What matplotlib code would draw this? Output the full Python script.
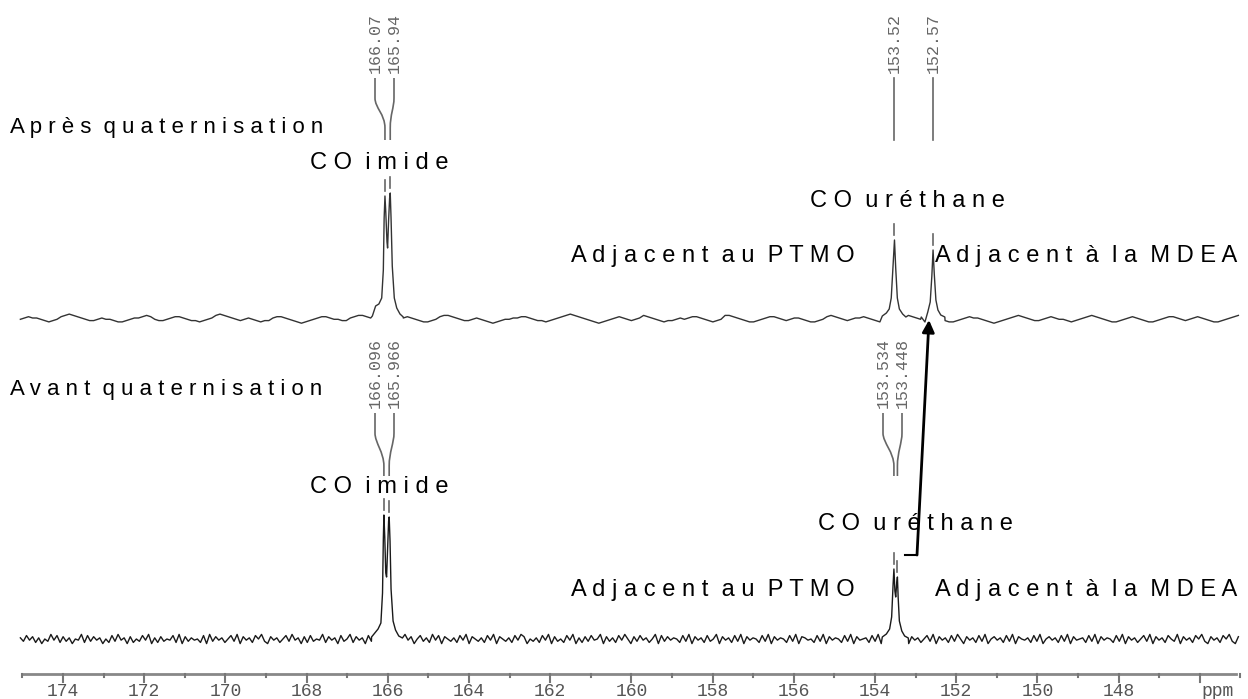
import numpy as np
import matplotlib.pyplot as plt
from matplotlib.path import Path
from matplotlib.patches import PathPatch

# ppm axis
ppm_major = [174, 172, 170, 168, 166, 164, 162, 160, 158, 156, 154, 152, 150, 148, 146]
ppm_labels = ["174", "172", "170", "168", "166", "164", "162", "160",
              "158", "156", "154", "152", "150", "148", ""]
ppm_minor = [175, 173, 171, 169, 167, 165, 163, 161, 159, 157, 155, 153, 151, 149, 147, 145]

# baseline noise (digit 0-9 = low..high)
top_noise = ("45655432346787654334544322345567643345665433234578"
             "76543454323356654321234566544335677654322344565432"
             "23467765433454321234455665433234567876543212345654"
             "34576543233454566543234776543223456654345543223467"
             "65434556543213456776543345432234565543212345676543"
             "34565443234567654322345654322345665434565432234567")
bot_noise = ("63847261539482736154928374615283946172538491627354"
             "82917364528193746258391746285931746258394617283549"
             "27461835927461839254718362947158362948175362849175"
             "36284917536284971536284917352849162738459173628495"
             "17384625918374652839174628359174628391746528391746"
             "52839176452839174652839174562839176452839174625839"
             "17462839517462839157462839175462839157462839174562"
             "83917465283917462583917462853917462859317462859317")

# peaks: ppm / height above baseline (px)
top_imide_ppm = [166.38, 166.30, 166.22, 166.15, 166.11, 166.09, 166.07, 166.05, 166.02,
                 166.005, 165.98, 165.955, 165.94, 165.92, 165.89, 165.84, 165.78, 165.70, 165.62]
top_imide_h = [2, 12, 14, 20, 48, 100, 122, 106, 76, 70, 98, 120, 125, 100, 52, 20, 10, 4, 1]
top_u1_ppm = [153.82, 153.72, 153.65, 153.60, 153.56, 153.52, 153.49, 153.45, 153.40, 153.32, 153.24]
top_u1_h = [2, 5, 9, 20, 50, 78, 50, 20, 9, 4, 1]
top_u2_ppm = [152.86, 152.77, 152.70, 152.64, 152.60, 152.57, 152.54, 152.50, 152.45, 152.38, 152.28]
top_u2_h = [1, -4, 6, 16, 42, 68, 44, 18, 8, 3, 1]

bot_imide_ppm = [166.40, 166.32, 166.24, 166.17, 166.13, 166.11, 166.096, 166.075, 166.05,
                 166.03, 166.00, 165.98, 165.966, 165.945, 165.92, 165.87, 165.81, 165.73, 165.64]
bot_imide_h = [2, 6, 10, 16, 46, 100, 124, 102, 66, 62, 94, 118, 122, 98, 50, 18, 9, 3, 1]
bot_u_ppm = [153.82, 153.72, 153.64, 153.59, 153.555, 153.534, 153.51, 153.49, 153.465,
             153.448, 153.43, 153.40, 153.34, 153.27, 153.18]
bot_u_h = [2, 5, 10, 22, 54, 70, 48, 42, 56, 62, 42, 18, 8, 3, 1]

# peak picking labels
top_pick = ["166.07", "165.94", "153.52", "152.57"]
top_pick_ppm = [166.07, 165.94, 153.52, 152.57]
bot_pick = ["166.096", "165.966", "153.534", "153.448"]
bot_pick_ppm = [166.096, 165.966, 153.534, 153.448]


def px(x):
    return 174 - (x - 63) / 40.6


def trace(noise, k, peaks):
    x = np.linspace(175.05, 145.05, len(noise))
    y = np.array([(int(c) - 5) * k for c in noise])
    keep = np.ones(len(x), bool)
    for p, h in peaks:
        keep &= ~((x <= max(p)) & (x >= min(p)))
    xs = list(x[keep])
    ys = list(y[keep])
    for p, h in peaks:
        xs += p
        ys += h
    order = np.argsort(xs)[::-1]
    return np.array(xs)[order], np.array(ys)[order]


fig = plt.figure(figsize=(12.48, 6.99), dpi=100)
ax = fig.add_axes([0, 0, 1, 1])
ax.set_xlim(px(0), px(1248))
ax.set_ylim(699, 0)
ax.axis("off")

# spectra
top_base, bot_base = 318, 639
tx, ty = trace(top_noise, 1.3, [(top_imide_ppm, top_imide_h), (top_u1_ppm, top_u1_h),
                                (top_u2_ppm, top_u2_h)])
ax.plot(tx, top_base - ty, color="#333333", lw=1.0)
bx, by = trace(bot_noise, 1.15, [(bot_imide_ppm, bot_imide_h), (bot_u_ppm, bot_u_h)])
ax.plot(bx, bot_base - by, color="#1a1a1a", lw=1.0)

gray = "#666666"
mono = "Liberation Mono"


def pick(labels, ppms, lab_x, y_txt, y1, y2, y3):
    for lab, p, lx in zip(labels, ppms, lab_x):
        ax.text(lx, y_txt, lab, rotation=90, ha="center", va="bottom",
                fontsize=12, family=mono, color=gray)
        if abs(lx - p) < 0.01:
            ax.plot([p, p], [y1, y3], color=gray, lw=1.2)
        else:
            verts = [(lx, y1), (lx, y1 + 12), (lx, y1 + 20), (lx, y1 + 30),
                     (p, y2 - 14), (p, y2), (p, y3)]
            codes = [Path.MOVETO, Path.LINETO, Path.LINETO, Path.CURVE4,
                     Path.CURVE4, Path.CURVE4, Path.LINETO]
            ax.add_patch(PathPatch(Path(verts, codes), fill=False, ec=gray, lw=1.2))


pick(top_pick, top_pick_ppm, [px(375), px(394), 153.52, 152.57], 73, 78, 128, 140)
pick(bot_pick, bot_pick_ppm, [px(375), px(394), px(883), px(902)], 408, 413, 466, 476)

# short dashes above each peak top
for p, h in [(166.07, 122), (165.94, 125), (153.52, 78), (152.57, 68)]:
    ax.plot([p, p], [top_base - h - 16, top_base - h - 5], color=gray, lw=1.2)
for p, h in [(166.096, 124), (165.966, 122), (153.534, 70), (153.448, 62)]:
    ax.plot([p, p], [bot_base - h - 16, bot_base - h - 5], color=gray, lw=1.2)

# annotations
sans = "Liberation Sans"
fs = 17
ax.text(px(10), 127, "A p r è s  q u a t e r n i s a t i o n", fontsize=16, family=sans, va="center")
ax.text(px(310), 163, "C O  i m i d e", fontsize=fs, family=sans, va="center")
ax.text(px(810), 201, "C O  u r é t h a n e", fontsize=fs, family=sans, va="center")
ax.text(px(571), 256, "A d j a c e n t  a u  P T M O", fontsize=fs, family=sans, va="center")
ax.text(px(935), 256, "A d j a c e n t  à  l a  M D E A", fontsize=fs, family=sans, va="center")

ax.text(px(10), 390, "A v a n t  q u a t e r n i s a t i o n", fontsize=16, family=sans, va="center")
ax.text(px(310), 487, "C O  i m i d e", fontsize=fs, family=sans, va="center")
ax.text(px(818), 524, "C O  u r é t h a n e", fontsize=fs, family=sans, va="center")
ax.text(px(571), 590, "A d j a c e n t  a u  P T M O", fontsize=fs, family=sans, va="center")
ax.text(px(935), 590, "A d j a c e n t  à  l a  M D E A", fontsize=fs, family=sans, va="center")

# arrow from bottom urethane to the new MDEA peak
stub_y = 555
ax.plot([px(905), px(917)], [stub_y, stub_y], color="k", lw=1.5)
ax.annotate("", xy=(px(929), 320), xytext=(px(917), stub_y),
            arrowprops=dict(arrowstyle="-|>", color="k", lw=2, mutation_scale=18,
                            shrinkA=0, shrinkB=0))

# ppm axis
ax_y = 674
ax.plot([175.0, 145.1], [ax_y, ax_y], color="#888888", lw=2)
for p, lab in zip(ppm_major, ppm_labels):
    ax.plot([p, p], [ax_y, ax_y + 8], color="#777777", lw=1.5)
    ax.text(p, ax_y + 9, lab, ha="center", va="top", fontsize=13, family=mono, color="#555555")
for p in ppm_minor:
    ax.plot([p, p], [ax_y, ax_y + 3], color="#777777", lw=1.5)
ax.text(px(1218), ax_y + 9, "ppm", ha="center", va="top", fontsize=13, family=mono, color="#555555")

fig.savefig("out.png", dpi=100, facecolor="white")
